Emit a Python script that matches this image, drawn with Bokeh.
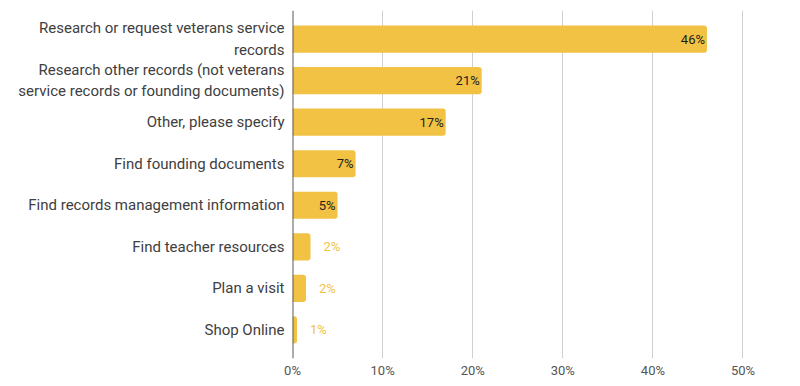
from bokeh.plotting import figure
from bokeh.models import Range1d, FactorRange, FixedTicker, PrintfTickFormatter, Span, ColumnDataSource
from bokeh.core.properties import value
from bokeh.embed import file_html
from bokeh.resources import INLINE

categories = [
    "Research or request veterans service\nrecords",
    "Research other records (not veterans\nservice records or founding documents)",
    "Other, please specify",
    "Find founding documents",
    "Find records management information",
    "Find teacher resources",
    "Plan a visit",
    "Shop Online",
]
values = [46, 21, 17, 7, 5, 2, 1.5, 0.5]
value_labels = ["46%", "21%", "17%", "7%", "5%", "2%", "2%", "1%"]
x_ticks = [0, 10, 20, 30, 40, 50]

BAR = "#F1C244"
FONT = "Roboto"

p = figure(
    width=767, height=380,
    y_range=FactorRange(factors=list(reversed(categories)), range_padding=0.19,
                        range_padding_units="absolute"),
    x_range=Range1d(0, 50.5),
    output_backend="svg", toolbar_location=None,
    min_border_left=292, min_border_right=20, min_border_top=10, min_border_bottom=0,
)
p.outline_line_color = None
p.background_fill_color = "white"

src = ColumnDataSource(dict(cat=categories, val=values, lab=value_labels))
p.hbar(y="cat", right="val", left=0, height=0.655, source=src,
       fill_color=BAR, line_color=None, border_radius=(0, 3, 3, 0))

inside = [i for i, v in enumerate(values) if v >= 5]
outside = [i for i, v in enumerate(values) if v < 5]
src_in = ColumnDataSource(dict(cat=[categories[i] for i in inside],
                               val=[values[i] for i in inside],
                               lab=[value_labels[i] for i in inside]))
src_out = ColumnDataSource(dict(cat=[categories[i] for i in outside],
                                val=[values[i] for i in outside],
                                lab=[value_labels[i] for i in outside]))
p.text(x="val", y="cat", text="lab", source=src_in, x_offset=-2,
       text_align="right", text_baseline="middle", text_font=value(FONT),
       text_font_size="13px", text_color="#1e1e1e")
p.text(x="val", y="cat", text="lab", source=src_out, x_offset=13,
       text_align="left", text_baseline="middle", text_font=value(FONT),
       text_font_size="13px", text_color=BAR)

p.add_layout(Span(location=0, dimension="height", line_color="#5a5a5a", line_width=2))

p.xgrid.ticker = FixedTicker(ticks=x_ticks)
p.xgrid.grid_line_color = "#d0d0d0"
p.xgrid.grid_line_width = 1
p.ygrid.grid_line_color = None

p.xaxis.ticker = FixedTicker(ticks=x_ticks)
p.xaxis.formatter = PrintfTickFormatter(format="%d%%")
p.xaxis.axis_line_color = None
p.xaxis.major_tick_line_color = None
p.xaxis.minor_tick_line_color = None
p.xaxis.major_tick_out = 0
p.xaxis.major_tick_in = 0
p.xaxis.major_label_standoff = 4
p.xaxis.major_label_text_font = FONT
p.xaxis.major_label_text_font_size = "13px"
p.xaxis.major_label_text_color = "#555555"

p.yaxis.axis_line_color = None
p.yaxis.major_tick_line_color = None
p.yaxis.minor_tick_line_color = None
p.yaxis.major_tick_out = 0
p.yaxis.major_tick_in = 0
p.yaxis.major_label_standoff = 8
p.yaxis.major_label_text_font = FONT
p.yaxis.major_label_text_font_size = "15px"
p.yaxis.major_label_text_color = "#404040"
p.yaxis.major_label_text_line_height = 1.2

open("out.html", "w").write(file_html(p, INLINE))
